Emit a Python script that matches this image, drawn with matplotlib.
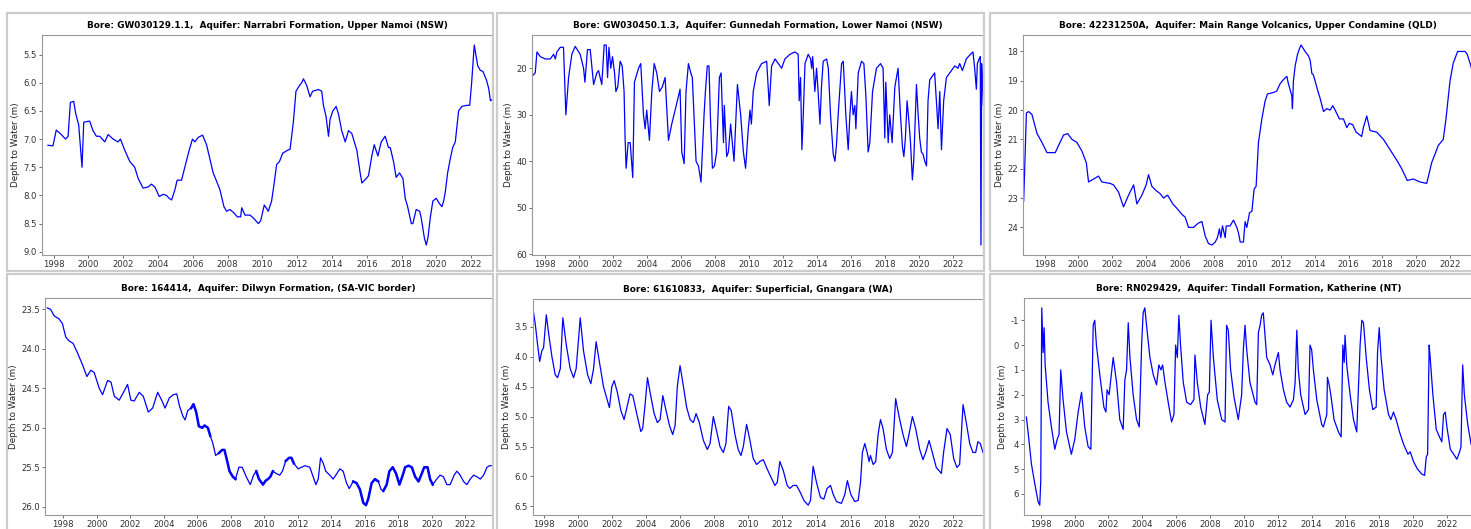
import matplotlib.pyplot as plt
from matplotlib.patches import Rectangle

plt.rcParams["font.family"] = "DejaVu Sans"
plt.rcParams["axes.unicode_minus"] = False

# ---- bore hydrographs: decimal year vs depth to water (m) ----
gw030129_year = [1997.67, 1997.96, 1998.15, 1998.44, 1998.69, 1998.83, 1998.96, 1999.15, 1999.27, 1999.44,
                 1999.63, 1999.73, 2000.07, 2000.26, 2000.46, 2000.65, 2000.94, 2001.13, 2001.42, 2001.70,
                 2001.84, 2002.09, 2002.38, 2002.66, 2002.86, 2003.14, 2003.43, 2003.62, 2003.82, 2004.07,
                 2004.30, 2004.49, 2004.64, 2004.78, 2004.97, 2005.10, 2005.35, 2005.54, 2005.79, 2005.98,
                 2006.12, 2006.31, 2006.56, 2006.79, 2006.98, 2007.17, 2007.37, 2007.56, 2007.79, 2007.94,
                 2008.13, 2008.33, 2008.56, 2008.75, 2008.81, 2009.00, 2009.29, 2009.48, 2009.77, 2009.90,
                 2010.11, 2010.34, 2010.53, 2010.67, 2010.82, 2010.98, 2011.17, 2011.44, 2011.59, 2011.78,
                 2011.93, 2012.13, 2012.26, 2012.36, 2012.55, 2012.74, 2012.89, 2013.22, 2013.41, 2013.51,
                 2013.66, 2013.80, 2013.89, 2014.05, 2014.24, 2014.37, 2014.56, 2014.76, 2014.95, 2015.14,
                 2015.43, 2015.62, 2015.72, 2015.97, 2016.10, 2016.29, 2016.43, 2016.64, 2016.83, 2017.06,
                 2017.25, 2017.35, 2017.54, 2017.69, 2017.88, 2018.08, 2018.21, 2018.35, 2018.56, 2018.65,
                 2018.84, 2019.04, 2019.13, 2019.31, 2019.42, 2019.52, 2019.65, 2019.80, 2019.99, 2020.19,
                 2020.32, 2020.42, 2020.51, 2020.65, 2020.80, 2020.94, 2021.09, 2021.28, 2021.47, 2021.76,
                 2021.92, 2022.03, 2022.18, 2022.38, 2022.53, 2022.68, 2022.88, 2023.01, 2023.11, 2023.20]
gw030129_depth = [7.11, 7.12, 6.84, 6.92, 7.00, 6.95, 6.35, 6.33, 6.55, 6.75,
                  7.50, 6.70, 6.68, 6.85, 6.95, 6.95, 7.05, 6.92, 7.00, 7.05,
                  7.00, 7.20, 7.40, 7.50, 7.70, 7.87, 7.85, 7.80, 7.85, 8.02,
                  7.98, 8.00, 8.05, 8.08, 7.90, 7.73, 7.73, 7.50, 7.20, 7.00,
                  7.05, 6.97, 6.93, 7.10, 7.35, 7.60, 7.75, 7.90, 8.20, 8.28,
                  8.25, 8.30, 8.38, 8.38, 8.22, 8.35, 8.35, 8.40, 8.50, 8.45,
                  8.17, 8.28, 8.10, 7.80, 7.45, 7.40, 7.25, 7.20, 7.18, 6.70,
                  6.15, 6.05, 6.00, 5.93, 6.05, 6.25, 6.15, 6.12, 6.15, 6.40,
                  6.60, 6.95, 6.65, 6.50, 6.42, 6.55, 6.85, 7.05, 6.85, 6.90,
                  7.20, 7.60, 7.78, 7.70, 7.65, 7.30, 7.10, 7.30, 7.05, 6.95,
                  7.15, 7.15, 7.40, 7.68, 7.60, 7.70, 8.05, 8.20, 8.50, 8.50,
                  8.25, 8.28, 8.40, 8.75, 8.88, 8.75, 8.40, 8.10, 8.05, 8.15,
                  8.20, 8.10, 7.95, 7.60, 7.35, 7.15, 7.05, 6.50, 6.42, 6.40,
                  6.40, 6.00, 5.33, 5.70, 5.78, 5.80, 5.95, 6.10, 6.32, 6.30]

gw030450_year = [1997.32, 1997.45, 1997.55, 1997.75, 1998.04, 1998.33, 1998.53, 1998.63, 1998.72, 1998.92,
                 1999.11, 1999.25, 1999.41, 1999.60, 1999.80, 2000.09, 2000.29, 2000.37, 2000.52, 2000.68,
                 2000.88, 2001.07, 2001.17, 2001.36, 2001.50, 2001.62, 2001.70, 2001.78, 2001.89, 2001.99,
                 2002.11, 2002.19, 2002.30, 2002.44, 2002.56, 2002.67, 2002.73, 2002.79, 2002.91, 2003.03,
                 2003.18, 2003.28, 2003.52, 2003.65, 2003.81, 2003.91, 2004.00, 2004.16, 2004.30, 2004.44,
                 2004.59, 2004.75, 2004.92, 2005.08, 2005.28, 2005.47, 2005.67, 2005.96, 2006.06, 2006.20,
                 2006.31, 2006.45, 2006.59, 2006.68, 2006.90, 2007.04, 2007.19, 2007.37, 2007.45, 2007.56,
                 2007.66, 2007.74, 2007.86, 2007.98, 2008.11, 2008.27, 2008.37, 2008.51, 2008.56, 2008.70,
                 2008.80, 2008.93, 2009.13, 2009.25, 2009.33, 2009.52, 2009.68, 2009.81, 2009.97, 2010.07,
                 2010.15, 2010.26, 2010.46, 2010.75, 2011.05, 2011.14, 2011.20, 2011.34, 2011.54, 2011.73,
                 2011.93, 2012.12, 2012.42, 2012.71, 2012.90, 2012.96, 2013.04, 2013.12, 2013.20, 2013.30,
                 2013.49, 2013.63, 2013.69, 2013.75, 2013.88, 2013.98, 2014.08, 2014.18, 2014.27, 2014.37,
                 2014.57, 2014.67, 2014.80, 2014.96, 2015.06, 2015.15, 2015.25, 2015.45, 2015.55, 2015.70,
                 2015.84, 2015.94, 2016.03, 2016.13, 2016.23, 2016.29, 2016.43, 2016.62, 2016.76, 2016.88,
                 2017.01, 2017.11, 2017.27, 2017.50, 2017.74, 2017.89, 2017.99, 2018.05, 2018.19, 2018.28,
                 2018.42, 2018.58, 2018.77, 2018.91, 2019.03, 2019.11, 2019.20, 2019.30, 2019.42, 2019.50,
                 2019.61, 2019.69, 2019.85, 2019.95, 2020.04, 2020.14, 2020.24, 2020.34, 2020.44, 2020.53,
                 2020.63, 2020.92, 2021.12, 2021.22, 2021.32, 2021.45, 2021.61, 2021.90, 2022.10, 2022.29,
                 2022.39, 2022.55, 2022.78, 2023.02, 2023.17, 2023.27, 2023.37, 2023.43, 2023.53, 2023.60,
                 2023.64, 2023.68, 2023.72, 2023.78]
gw030450_depth = [21.5, 21.0, 16.5, 17.5, 18.0, 18.0, 17.0, 18.0, 16.5, 15.5,
                  15.5, 30.0, 22.0, 17.0, 15.3, 17.0, 20.0, 23.0, 16.0, 16.0,
                  23.5, 21.0, 20.5, 23.5, 15.0, 15.0, 22.0, 15.5, 20.0, 17.5,
                  21.0, 25.0, 24.0, 18.5, 19.5, 25.0, 35.0, 41.5, 36.0, 36.0,
                  43.5, 23.0, 20.0, 19.0, 30.0, 33.0, 29.0, 35.5, 25.0, 19.0,
                  21.0, 25.0, 24.0, 22.0, 35.5, 32.0, 29.0, 24.5, 38.0, 40.5,
                  25.0, 19.0, 21.0, 22.0, 40.0, 41.0, 44.5, 30.0, 25.0, 19.5,
                  19.5, 30.0, 41.5, 41.0, 38.0, 22.0, 21.0, 36.0, 28.0, 39.0,
                  38.0, 32.0, 40.0, 30.0, 23.5, 30.0, 38.0, 41.5, 33.0, 29.0,
                  32.0, 25.0, 21.0, 19.0, 18.5, 24.0, 28.0, 19.5, 18.0, 19.0,
                  20.0, 18.0, 17.0, 16.5, 17.0, 27.0, 22.0, 37.5, 30.0, 19.0,
                  17.0, 18.0, 20.0, 17.5, 25.0, 20.0, 25.5, 32.0, 24.0, 18.5,
                  18.0, 20.0, 30.0, 38.5, 40.0, 36.5, 30.0, 19.0, 18.5, 30.0,
                  37.5, 30.0, 25.0, 30.0, 28.0, 33.0, 21.0, 18.5, 19.0, 26.0,
                  38.0, 36.0, 25.0, 20.0, 19.0, 20.0, 35.0, 23.0, 36.0, 30.0,
                  36.0, 24.0, 20.0, 30.0, 37.0, 39.0, 35.0, 27.0, 32.0, 36.0,
                  44.0, 40.0, 23.5, 30.0, 35.0, 38.0, 38.5, 40.0, 41.0, 27.0,
                  22.5, 21.0, 33.0, 25.0, 37.5, 27.0, 22.0, 20.5, 19.5, 20.0,
                  19.0, 20.5, 18.0, 17.0, 16.5, 20.0, 24.5, 19.0, 18.0, 17.5,
                  58.0, 19.0, 22.0, 28.0]

qld_year = [1996.76, 1996.82, 1996.92, 1997.05, 1997.25, 1997.55, 1997.84, 1998.14, 1998.63, 1998.83,
            1999.12, 1999.36, 1999.62, 1999.91, 2000.21, 2000.47, 2000.60, 2000.90, 2001.19, 2001.39,
            2001.88, 2002.08, 2002.38, 2002.67, 2002.97, 2003.27, 2003.46, 2003.76, 2004.01, 2004.15,
            2004.35, 2004.61, 2004.84, 2005.04, 2005.28, 2005.59, 2005.83, 2006.12, 2006.32, 2006.52,
            2006.81, 2007.11, 2007.31, 2007.51, 2007.70, 2007.90, 2008.10, 2008.23, 2008.35, 2008.43,
            2008.53, 2008.69, 2008.75, 2008.98, 2009.18, 2009.38, 2009.48, 2009.58, 2009.77, 2009.87,
            2009.97, 2010.13, 2010.27, 2010.40, 2010.52, 2010.66, 2010.86, 2011.05, 2011.19, 2011.55,
            2011.74, 2011.94, 2012.08, 2012.24, 2012.34, 2012.43, 2012.53, 2012.63, 2012.67, 2012.73,
            2012.83, 2012.97, 2013.09, 2013.18, 2013.42, 2013.62, 2013.72, 2013.82, 2013.91, 2014.01,
            2014.15, 2014.31, 2014.51, 2014.70, 2014.90, 2015.06, 2015.20, 2015.45, 2015.69, 2015.89,
            2016.04, 2016.24, 2016.44, 2016.77, 2016.87, 2017.07, 2017.27, 2017.66, 2018.06, 2018.45,
            2018.84, 2019.14, 2019.47, 2019.83, 2020.22, 2020.62, 2020.91, 2021.31, 2021.60, 2021.76,
            2022.00, 2022.19, 2022.45, 2022.89, 2023.02, 2023.24, 2023.38]
qld_depth = [23.10, 22.00, 20.10, 20.05, 20.15, 20.80, 21.10, 21.45, 21.45, 21.20,
             20.85, 20.80, 21.00, 21.10, 21.40, 21.80, 22.45, 22.35, 22.25, 22.45,
             22.50, 22.55, 22.80, 23.30, 22.90, 22.55, 23.20, 22.90, 22.55, 22.20,
             22.60, 22.75, 22.85, 23.00, 22.90, 23.20, 23.35, 23.55, 23.65, 24.00,
             24.00, 23.85, 23.80, 24.30, 24.55, 24.60, 24.50, 24.35, 24.05, 24.35,
             23.95, 24.35, 23.95, 23.95, 23.75, 24.00, 24.20, 24.50, 24.50, 23.80,
             24.00, 23.50, 23.45, 22.70, 22.60, 21.10, 20.30, 19.70, 19.45, 19.40,
             19.35, 19.10, 19.00, 18.90, 18.85, 19.10, 19.30, 19.50, 19.95, 19.00,
             18.50, 18.10, 17.90, 17.78, 18.00, 18.15, 18.30, 18.75, 18.80, 19.00,
             19.30, 19.60, 20.05, 19.95, 20.00, 19.85, 20.00, 20.30, 20.30, 20.60,
             20.45, 20.50, 20.75, 20.90, 20.60, 20.20, 20.70, 20.75, 21.00, 21.35,
             21.70, 22.00, 22.40, 22.35, 22.45, 22.50, 21.80, 21.20, 21.00, 20.30,
             19.00, 18.40, 18.00, 18.00, 18.10, 18.50, 18.90]

dilwyn_year = [1997.04, 1997.24, 1997.44, 1997.74, 1997.94, 1998.14, 1998.34, 1998.58, 1998.84, 1999.14,
               1999.40, 1999.64, 1999.84, 2000.14, 2000.34, 2000.64, 2000.84, 2001.04, 2001.33, 2001.59,
               2001.83, 2002.03, 2002.23, 2002.53, 2002.77, 2003.07, 2003.33, 2003.63, 2003.87, 2004.07,
               2004.33, 2004.57, 2004.77, 2004.93, 2005.13, 2005.27, 2005.43, 2005.63, 2005.77, 2005.93,
               2006.09, 2006.29, 2006.43, 2006.63, 2006.77, 2006.93, 2007.09, 2007.29, 2007.48, 2007.62,
               2007.78, 2007.92, 2008.12, 2008.28, 2008.48, 2008.68, 2008.92, 2009.16, 2009.36, 2009.52,
               2009.68, 2009.92, 2010.08, 2010.22, 2010.36, 2010.51, 2010.72, 2010.92, 2011.08, 2011.28,
               2011.48, 2011.62, 2011.76, 2012.02, 2012.22, 2012.42, 2012.72, 2012.92, 2013.08, 2013.22,
               2013.36, 2013.52, 2013.67, 2013.91, 2014.11, 2014.27, 2014.51, 2014.71, 2014.91, 2015.07,
               2015.31, 2015.51, 2015.71, 2015.91, 2016.07, 2016.21, 2016.41, 2016.61, 2016.81, 2016.97,
               2017.11, 2017.31, 2017.47, 2017.67, 2017.87, 2018.07, 2018.27, 2018.41, 2018.61, 2018.81,
               2019.01, 2019.21, 2019.37, 2019.55, 2019.75, 2019.90, 2020.06, 2020.30, 2020.50, 2020.70,
               2020.90, 2021.10, 2021.34, 2021.50, 2021.70, 2021.90, 2022.10, 2022.30, 2022.50, 2022.70,
               2022.90, 2023.10, 2023.30, 2023.46, 2023.60]
dilwyn_depth = [23.48, 23.50, 23.58, 23.62, 23.68, 23.85, 23.90, 23.93, 24.05, 24.20,
                24.35, 24.27, 24.30, 24.50, 24.58, 24.40, 24.42, 24.60, 24.65, 24.55,
                24.45, 24.65, 24.66, 24.55, 24.60, 24.80, 24.75, 24.55, 24.65, 24.75,
                24.62, 24.58, 24.57, 24.72, 24.85, 24.90, 24.78, 24.75, 24.70, 24.80,
                24.98, 25.00, 24.97, 25.00, 25.10, 25.20, 25.35, 25.32, 25.28, 25.28,
                25.42, 25.55, 25.62, 25.65, 25.50, 25.50, 25.62, 25.72, 25.60, 25.55,
                25.65, 25.72, 25.67, 25.65, 25.62, 25.55, 25.58, 25.60, 25.55, 25.42,
                25.38, 25.38, 25.45, 25.52, 25.50, 25.48, 25.50, 25.62, 25.72, 25.65,
                25.38, 25.45, 25.55, 25.60, 25.65, 25.60, 25.52, 25.55, 25.70, 25.77,
                25.68, 25.70, 25.78, 25.95, 25.98, 25.90, 25.70, 25.65, 25.68, 25.78,
                25.80, 25.72, 25.55, 25.50, 25.58, 25.72, 25.60, 25.50, 25.48, 25.50,
                25.62, 25.68, 25.60, 25.50, 25.50, 25.65, 25.72, 25.65, 25.60, 25.62,
                25.72, 25.72, 25.60, 25.55, 25.60, 25.68, 25.72, 25.65, 25.60, 25.62,
                25.65, 25.60, 25.50, 25.48, 25.48]
# periods where the logger record is dense enough to read as a thick band
dilwyn_logger_spans = [(2005.6, 2006.9), (2007.2, 2008.3), (2009.4, 2010.6),
                       (2011.2, 2011.9), (2015.2, 2016.9), (2017.1, 2020.2)]

gnangara_year = [1997.38, 1997.51, 1997.65, 1997.77, 1997.90, 1998.00, 1998.16, 1998.29, 1998.49, 1998.68,
                 1998.82, 1998.98, 1999.13, 1999.33, 1999.56, 1999.76, 1999.91, 2000.15, 2000.34, 2000.58,
                 2000.77, 2000.93, 2001.08, 2001.28, 2001.51, 2001.71, 2001.86, 2002.00, 2002.14, 2002.33,
                 2002.53, 2002.72, 2002.88, 2003.07, 2003.23, 2003.46, 2003.70, 2003.81, 2003.95, 2004.09,
                 2004.28, 2004.48, 2004.67, 2004.83, 2004.99, 2005.18, 2005.38, 2005.57, 2005.71, 2005.84,
                 2006.00, 2006.20, 2006.39, 2006.59, 2006.78, 2006.94, 2007.13, 2007.37, 2007.60, 2007.76,
                 2007.95, 2008.15, 2008.34, 2008.54, 2008.69, 2008.85, 2009.00, 2009.22, 2009.41, 2009.57,
                 2009.71, 2009.90, 2010.10, 2010.29, 2010.49, 2010.68, 2010.88, 2011.07, 2011.31, 2011.56,
                 2011.70, 2011.85, 2012.05, 2012.28, 2012.44, 2012.63, 2012.83, 2013.02, 2013.26, 2013.51,
                 2013.65, 2013.80, 2014.00, 2014.23, 2014.43, 2014.62, 2014.82, 2014.98, 2015.17, 2015.46,
                 2015.66, 2015.81, 2016.01, 2016.24, 2016.44, 2016.58, 2016.69, 2016.83, 2016.97, 2017.08,
                 2017.16, 2017.32, 2017.47, 2017.61, 2017.75, 2017.90, 2018.10, 2018.29, 2018.45, 2018.64,
                 2018.84, 2019.07, 2019.27, 2019.42, 2019.62, 2019.81, 2020.05, 2020.24, 2020.40, 2020.60,
                 2020.79, 2021.02, 2021.32, 2021.45, 2021.65, 2021.84, 2022.04, 2022.23, 2022.39, 2022.59,
                 2022.78, 2022.98, 2023.17, 2023.33, 2023.46, 2023.60, 2023.76]
gnangara_depth = [3.20, 3.45, 3.80, 4.08, 3.90, 3.85, 3.30, 3.60, 4.00, 4.30,
                  4.35, 4.20, 3.35, 3.80, 4.20, 4.35, 4.20, 3.35, 3.90, 4.30,
                  4.45, 4.20, 3.75, 4.10, 4.50, 4.70, 4.85, 4.50, 4.40, 4.60,
                  4.90, 5.05, 4.85, 4.62, 4.65, 4.95, 5.25, 5.20, 4.80, 4.35,
                  4.65, 4.95, 5.10, 5.05, 4.65, 4.90, 5.15, 5.30, 5.15, 4.50,
                  4.15, 4.50, 4.85, 5.05, 5.10, 4.95, 5.10, 5.40, 5.55, 5.45,
                  5.00, 5.25, 5.50, 5.60, 5.45, 4.83, 4.90, 5.30, 5.55, 5.65,
                  5.50, 5.13, 5.40, 5.70, 5.80, 5.75, 5.72, 5.85, 6.00, 6.15,
                  6.10, 5.75, 5.90, 6.15, 6.20, 6.15, 6.15, 6.25, 6.40, 6.48,
                  6.40, 5.83, 6.10, 6.35, 6.38, 6.20, 6.15, 6.30, 6.42, 6.45,
                  6.30, 6.07, 6.30, 6.42, 6.40, 6.10, 5.60, 5.45, 5.60, 5.75,
                  5.65, 5.80, 5.75, 5.30, 5.05, 5.20, 5.55, 5.70, 5.60, 4.70,
                  5.00, 5.30, 5.50, 5.30, 5.00, 5.20, 5.55, 5.72, 5.60, 5.40,
                  5.60, 5.85, 5.95, 5.60, 5.20, 5.30, 5.70, 5.85, 5.80, 4.80,
                  5.10, 5.45, 5.60, 5.60, 5.42, 5.45, 5.60]

tindall_year = [1997.15, 1997.25, 1997.45, 1997.65, 1997.84, 1997.94, 1998.00, 1998.06, 1998.14, 1998.20,
                1998.26, 1998.43, 1998.63, 1998.83, 1998.97, 1999.08, 1999.18, 1999.32, 1999.52, 1999.81,
                2000.01, 2000.21, 2000.41, 2000.60, 2000.80, 2000.96, 2001.10, 2001.19, 2001.29, 2001.49,
                2001.73, 2001.85, 2001.92, 2002.04, 2002.28, 2002.48, 2002.67, 2002.87, 2002.97, 2003.07,
                2003.17, 2003.27, 2003.46, 2003.66, 2003.82, 2003.96, 2004.05, 2004.15, 2004.25, 2004.45,
                2004.65, 2004.84, 2004.98, 2005.10, 2005.20, 2005.34, 2005.53, 2005.73, 2005.87, 2005.97,
                2006.07, 2006.16, 2006.26, 2006.42, 2006.62, 2006.85, 2007.05, 2007.11, 2007.25, 2007.45,
                2007.70, 2007.86, 2007.96, 2008.06, 2008.20, 2008.43, 2008.69, 2008.89, 2008.98, 2009.08,
                2009.22, 2009.42, 2009.67, 2009.87, 2009.97, 2010.07, 2010.17, 2010.36, 2010.66, 2010.76,
                2010.86, 2010.96, 2011.05, 2011.15, 2011.35, 2011.55, 2011.71, 2011.84, 2012.04, 2012.14,
                2012.34, 2012.53, 2012.73, 2012.93, 2013.03, 2013.13, 2013.22, 2013.36, 2013.62, 2013.82,
                2013.91, 2014.01, 2014.11, 2014.31, 2014.60, 2014.70, 2014.90, 2014.94, 2015.04, 2015.14,
                2015.33, 2015.59, 2015.75, 2015.85, 2015.93, 2015.98, 2016.08, 2016.28, 2016.48, 2016.67,
                2016.87, 2016.97, 2017.07, 2017.23, 2017.42, 2017.62, 2017.82, 2017.90, 2018.00, 2018.11,
                2018.29, 2018.55, 2018.69, 2018.84, 2019.00, 2019.20, 2019.44, 2019.70, 2019.83, 2020.03,
                2020.26, 2020.52, 2020.68, 2020.78, 2020.86, 2020.95, 2021.01, 2021.17, 2021.37, 2021.56,
                2021.70, 2021.80, 2021.90, 2022.00, 2022.20, 2022.40, 2022.59, 2022.75, 2022.83, 2022.93,
                2023.03, 2023.23, 2023.43]
tindall_depth = [2.9, 3.5, 4.8, 5.6, 6.3, 6.45, 5.5, -1.5, 0.3, -0.7,
                 0.8, 2.3, 3.3, 4.2, 3.8, 3.6, 1.0, 2.2, 3.5, 4.4,
                 3.8, 2.7, 1.9, 3.3, 4.1, 4.2, -0.8, -1.0, 0.0, 1.2,
                 2.5, 2.7, 1.8, 2.0, 0.5, 1.5, 3.0, 3.4, 1.4, 1.0,
                 -0.9, 0.5, 2.0, 3.0, 3.3, 0.0, -1.3, -1.5, -0.8, 0.5,
                 1.2, 1.6, 0.8, 1.0, 0.8, 1.5, 2.3, 3.1, 2.8, 0.0,
                 0.5, -1.2, 0.0, 1.5, 2.3, 2.4, 2.2, 0.4, 1.5, 2.5,
                 3.2, 2.0, 1.9, -1.0, 0.5, 2.2, 3.0, 3.1, -0.8, -0.6,
                 1.0, 2.1, 3.0, 2.0, 0.2, -0.8, 0.2, 1.5, 2.3, 2.4,
                 -0.5, -0.8, -1.2, -1.3, 0.5, 0.8, 1.2, 0.8, 0.3, 1.0,
                 1.8, 2.3, 2.5, 2.2, 1.5, -0.6, 1.0, 2.0, 2.8, 2.6,
                 0.0, 0.2, 1.0, 2.2, 3.2, 3.3, 2.8, 1.3, 1.6, 2.0,
                 3.0, 3.5, 3.7, 0.0, 0.7, -0.4, 0.8, 2.0, 3.0, 3.5,
                 0.0, -1.0, -0.9, 0.5, 1.8, 2.6, 2.5, 0.3, -0.7, 0.5,
                 1.8, 2.8, 3.0, 2.7, 3.0, 3.5, 4.0, 4.4, 4.3, 4.7,
                 5.0, 5.2, 5.25, 4.5, 4.4, 0.0, 0.5, 2.0, 3.4, 3.7,
                 3.9, 2.8, 2.7, 3.3, 4.2, 4.4, 4.6, 4.3, 4.1, 0.8,
                 2.0, 3.2, 4.0]

titles = [
    "Bore: GW030129.1.1,  Aquifer: Narrabri Formation, Upper Namoi (NSW)",
    "Bore: GW030450.1.3,  Aquifer: Gunnedah Formation, Lower Namoi (NSW)",
    "Bore: 42231250A,  Aquifer: Main Range Volcanics, Upper Condamine (QLD)",
    "Bore: 164414,  Aquifer: Dilwyn Formation, (SA-VIC border)",
    "Bore: 61610833,  Aquifer: Superficial, Gnangara (WA)",
    "Bore: RN029429,  Aquifer: Tindall Formation, Katherine (NT)",
]
year_ticks = list(range(1998, 2023, 2))

W, H = 1471, 529
fig = plt.figure(figsize=(W / 100, H / 100), dpi=100)


def px_rect(left, top, right, bottom):
    return [left / W, 1 - bottom / H, (right - left) / W, (bottom - top) / H]


# grey frame round each panel
frames = [(7, 13, 493, 271), (497, 13, 984, 271), (990, 13, 1490, 271),
          (7, 274, 493, 545), (497, 274, 984, 545), (990, 274, 1490, 545)]
for l, t, r, b in frames:
    x0, y0, w, h = px_rect(l, t, r, b)
    fig.add_artist(Rectangle((x0, y0), w, h, transform=fig.transFigure,
                             fill=False, edgecolor="#cccccc", linewidth=1.6))

panels = [
    (gw030129_year, gw030129_depth, (42, 35, 492, 255), (1997.33, 2023.2)),
    (gw030450_year, gw030450_depth, (532, 35, 983, 255), (1997.26, 2023.76)),
    (qld_year, qld_depth, (1023, 35, 1473, 255), (1996.72, 2023.36)),
    (dilwyn_year, dilwyn_depth, (45, 298, 492, 515), (1996.9, 2023.6)),
    (gnangara_year, gnangara_depth, (533, 299, 983, 515), (1997.38, 2023.76)),
    (tindall_year, tindall_depth, (1024, 298, 1474, 515), (1997.01, 2023.6)),
]

axes = []
for (yrs, depth, box, xlim), title in zip(panels, titles):
    ax = fig.add_axes(px_rect(*box))
    ax.plot(yrs, depth, color="blue", linewidth=0.9)
    ax.set_xlim(*xlim)
    ax.invert_yaxis()
    ax.set_xticks(year_ticks)
    ax.set_title(title, fontsize=6.4, fontweight="bold", pad=5)
    ax.set_ylabel("Depth to Water (m)", fontsize=6.3, color="#222222", labelpad=2.5)
    ax.tick_params(labelsize=6.1, labelcolor="#333333", color="#555555", length=2.2, width=0.6, pad=1.5)
    for s in ax.spines.values():
        s.set_color("#999999")
        s.set_linewidth(0.8)
    axes.append(ax)

# thicken the dense logger stretches of the Dilwyn record
ax4 = axes[3]
for lo, hi in dilwyn_logger_spans:
    seg = [(yr, d) for yr, d in zip(dilwyn_year, dilwyn_depth) if lo <= yr <= hi]
    ax4.plot([p[0] for p in seg], [p[1] for p in seg], color="blue", linewidth=1.8)

fig.savefig("out.png", dpi=100)
